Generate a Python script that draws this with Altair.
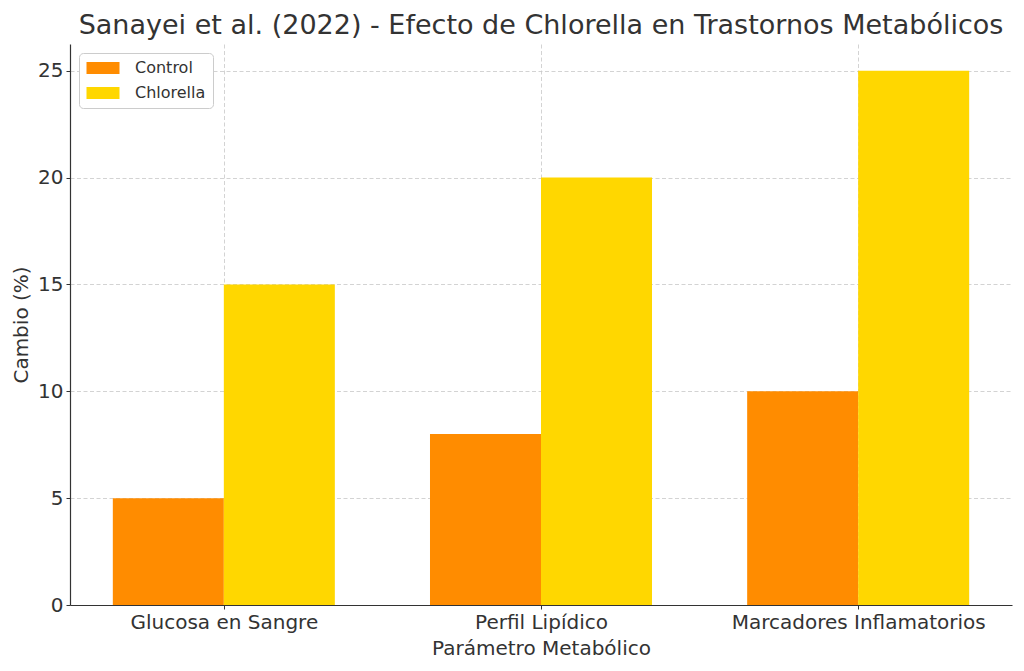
import altair as alt
import pandas as pd

categories = ["Glucosa en Sangre", "Perfil Lipídico", "Marcadores Inflamatorios"]
control = [5, 8, 10]
chlorella = [15, 20, 25]
series = ["Control", "Chlorella"]
colors = ["#FF8C00", "#FFD700"]
bar_w = 0.35

rows = []
for i, cat in enumerate(categories):
    rows.append({"cat": cat, "idx": i, "serie": "Control", "valor": control[i],
                 "x0": i - bar_w, "x1": i})
    rows.append({"cat": cat, "idx": i, "serie": "Chlorella", "valor": chlorella[i],
                 "x0": i, "x1": i + bar_w})
df = pd.DataFrame(rows)

label_expr = "datum.value == 0 ? '%s' : datum.value == 1 ? '%s' : '%s'" % tuple(categories)

font = "DejaVu Sans"
txt = "#333333"

chart = alt.Chart(df).mark_bar(stroke=None).encode(
    x=alt.X("x0:Q",
            scale=alt.Scale(domain=[-0.485, 2.485], nice=False, zero=False),
            axis=alt.Axis(values=[0, 1, 2], labelExpr=label_expr, labelLimit=0,
                          title="Parámetro Metabólico")),
    x2="x1:Q",
    y=alt.Y("valor:Q", scale=alt.Scale(domain=[0, 26.25], nice=False),
            axis=alt.Axis(values=[0, 5, 10, 15, 20, 25], title="Cambio (%)")),
    y2=alt.datum(0),
    color=alt.Color("serie:N",
                    scale=alt.Scale(domain=series, range=colors),
                    legend=alt.Legend(title=None, orient="top-left", offset=9,
                                      symbolType="M-1,-0.8L3.4,-0.8L3.4,0.8L-1,0.8Z",
                                      symbolSize=225, symbolStrokeWidth=0,
                                      symbolOpacity=1,
                                      labelFont=font, labelFontSize=16, labelColor=txt,
                                      rowPadding=9, padding=7, labelOffset=33,
                                      strokeColor="#cccccc", fillColor="white",
                                      cornerRadius=4, zindex=2)),
    order=alt.Order("idx:Q"),
).properties(
    width=942,
    height=561,
    title=alt.Title("Sanayei et al. (2022) - Efecto de Chlorella en Trastornos Metabólicos",
                    font=font, fontSize=27, fontWeight="normal", color=txt,
                    anchor="middle", offset=4),
    autosize=alt.AutoSizeParams(type="none"),
    padding={"left": 62, "top": 36, "right": 4, "bottom": 58},
).configure_view(
    stroke=None
).configure_axis(
    labelFont=font, labelFontSize=20, labelColor=txt,
    titleFont=font, titleFontSize=20, titleColor=txt, titleFontWeight="normal",
    domainColor=txt, domainWidth=1.2, tickColor=txt, tickSize=4, tickWidth=1,
    grid=True, gridColor="#c8c8c8", gridDash=[4, 2.5], gridWidth=0.8,
    labelPadding=3, zindex=1,
).configure_axisX(
    titlePadding=6
).configure_axisY(
    titlePadding=6
)

chart.save("out.html", embed_options={"renderer": "svg", "actions": False})
